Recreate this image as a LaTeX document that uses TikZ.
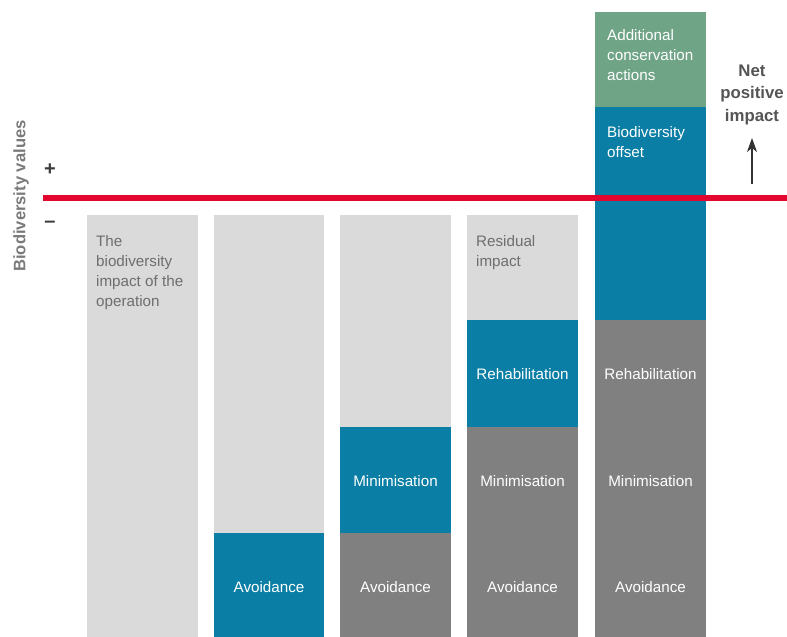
\documentclass[tikz,border=0pt]{standalone}
\usepackage{fontspec}
\setmainfont{Liberation Sans}
\usetikzlibrary{arrows.meta}
\definecolor{lgray}{HTML}{DADADA}
\definecolor{bblue}{HTML}{0A7EA4}
\definecolor{dgray}{HTML}{808080}
\definecolor{ggreen}{HTML}{6FA486}
\definecolor{rred}{HTML}{E3062F}
\definecolor{tgray}{HTML}{6E6E6E}
\definecolor{axgray}{HTML}{7A7A7A}
\definecolor{netgray}{HTML}{555555}
\tikzset{
  wlab/.style={text=white, font=\fontsize{15.2}{20}\selectfont, inner sep=0pt},
  glab/.style={text=tgray, font=\fontsize{15.2}{20}\selectfont, inner sep=0pt, align=left, anchor=base west},
  wlabl/.style={text=white, font=\fontsize{15.2}{20}\selectfont, inner sep=0pt, align=left, anchor=base west},
  signlab/.style={text=netgray!70!black, font=\fontsize{20}{20}\selectfont\bfseries, inner sep=0pt},
}
\begin{document}
\begin{tikzpicture}[x=1pt,y=-1pt]
\useasboundingbox (0,0) rectangle (787,637);
% column 1
\fill[lgray] (87,215) rectangle (198,637);
% column 2
\fill[lgray] (214,215) rectangle (324,533);
\fill[bblue] (214,533) rectangle (324,637);
% column 3
\fill[lgray] (340,215) rectangle (451,427);
\fill[bblue] (340,427) rectangle (451,533);
\fill[dgray] (340,533) rectangle (451,637);
% column 4
\fill[lgray] (467,215) rectangle (578,320);
\fill[bblue] (467,320) rectangle (578,427);
\fill[dgray] (467,427) rectangle (578,637);
% column 5
\fill[ggreen] (595,12) rectangle (706,107);
\fill[bblue] (595,107) rectangle (706,320);
\fill[dgray] (595,320) rectangle (706,637);
% red line
\fill[rred] (43,195) rectangle (787,201);

% texts (base anchor = baseline of last line)
\node[glab] (t1) at (96,306) {The\\biodiversity\\impact of the\\operation};
\node[wlab] (a2) at (269,587) {Avoidance};
\node[wlab] (m3) at (395.5,481) {Minimisation};
\node[wlab] (a3) at (395.5,587) {Avoidance};
\node[glab] (r4) at (476,266) {Residual\\impact};
\node[wlab] (h4) at (522.5,374) {Rehabilitation};
\node[wlab] (m4) at (522.5,481) {Minimisation};
\node[wlab] (a4) at (522.5,587) {Avoidance};
\node[wlabl] (c5) at (607,80) {Additional\\conservation\\actions};
\node[wlabl] (o5) at (607,157) {Biodiversity\\offset};
\node[wlab] (h5) at (650.5,374) {Rehabilitation};
\node[wlab] (m5) at (650.5,481) {Minimisation};
\node[wlab] (a5) at (650.5,587) {Avoidance};

\node[text=axgray, font=\fontsize{16.6}{18}\selectfont\bfseries, rotate=90, inner sep=0pt] (bv) at (21,196) {Biodiversity values};
\node[signlab] (plus) at (50,170) {+};
\node[signlab] (minus) at (50,224) {–};

\node[text=netgray, font=\fontsize{16.8}{22.5}\selectfont\bfseries, align=center, anchor=base, inner sep=0pt] (net) at (752,121) {Net\\positive\\impact};
\coordinate (arb) at (752,184);
\coordinate (art) at (752,138);
\draw[black!80, line width=1.1pt, -{Stealth[length=14pt,width=10pt,inset=4pt]}] (arb) -- (art);
\end{tikzpicture}
\end{document}
